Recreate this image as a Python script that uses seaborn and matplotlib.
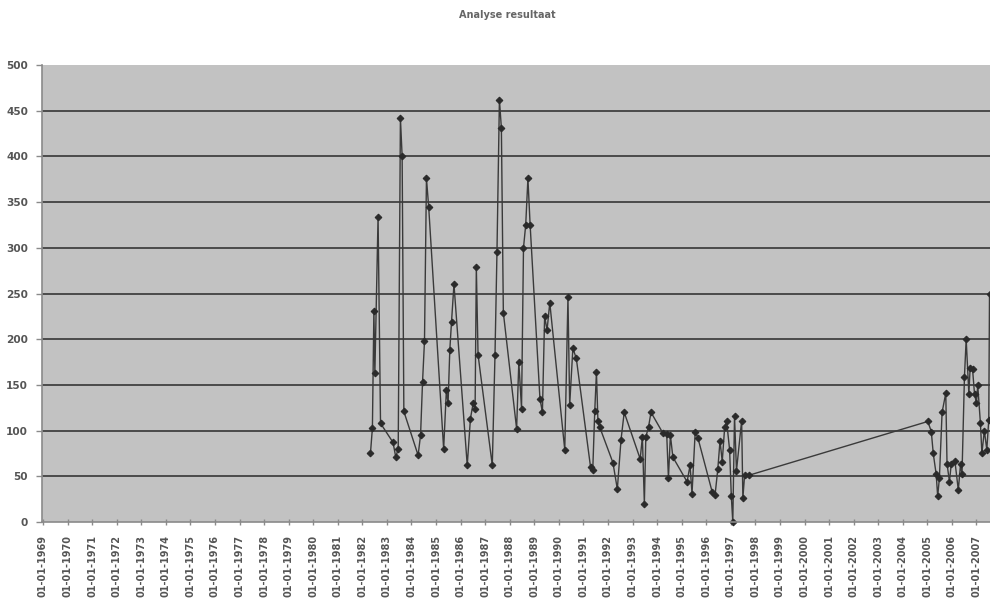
import matplotlib
matplotlib.use("Agg")
import matplotlib.pyplot as plt
import seaborn as sns
import pandas as pd

title_text = "Analyse resultaat"

# sample moments (decimal years) and measured results
sample_year = [
    1982.33, 1982.41, 1982.47, 1982.51, 1982.64, 1982.74,
    1983.25, 1983.36, 1983.46, 1983.55, 1983.62, 1983.69,
    1984.27, 1984.37, 1984.45, 1984.53, 1984.61, 1984.70,
    1985.31, 1985.42, 1985.49, 1985.56, 1985.63, 1985.73,
    1986.27, 1986.40, 1986.51, 1986.59, 1986.64, 1986.71,
    1987.29, 1987.40, 1987.48, 1987.58, 1987.66, 1987.74,
    1988.28, 1988.37, 1988.48, 1988.56, 1988.65, 1988.74, 1988.83,
    1989.23, 1989.33, 1989.42, 1989.52, 1989.63,
    1990.24, 1990.37, 1990.44, 1990.57, 1990.71,
    1991.29, 1991.38, 1991.46, 1991.53, 1991.59, 1991.66,
    1992.20, 1992.38, 1992.53, 1992.66,
    1993.31, 1993.40, 1993.48, 1993.54, 1993.65, 1993.75,
    1994.24, 1994.39, 1994.46, 1994.54, 1994.64,
    1995.22, 1995.34, 1995.42, 1995.55, 1995.66,
    1996.24, 1996.36, 1996.47, 1996.56, 1996.65, 1996.75, 1996.83, 1996.95,
    1997.02, 1997.08, 1997.15, 1997.23, 1997.44, 1997.49, 1997.56, 1997.72,
    2005.02, 2005.16, 2005.24, 2005.36, 2005.42, 2005.49, 2005.60, 2005.75,
    2005.80, 2005.90, 2005.97,
    2006.12, 2006.26, 2006.35, 2006.41, 2006.51, 2006.58, 2006.69, 2006.74,
    2006.84, 2006.92, 2007.00, 2007.05, 2007.16, 2007.22, 2007.32, 2007.42,
    2007.50, 2007.53,
]
result_value = [
    75, 103, 231, 163, 334, 108,
    87, 71, 80, 442, 400, 121,
    73, 95, 153, 198, 376, 345,
    80, 144, 130, 188, 219, 260,
    62, 113, 130, 124, 279, 183,
    62, 183, 295, 462, 431, 229,
    102, 175, 124, 300, 325, 376, 325,
    135, 120, 225, 210, 240,
    79, 246, 128, 190, 179,
    60, 57, 121, 164, 110, 104,
    65, 36, 90, 120,
    69, 93, 20, 93, 104, 120,
    97, 96, 48, 95, 71,
    44, 62, 31, 99, 92,
    33, 30, 58, 89, 66, 104, 110, 79,
    28, 0, 116, 56, 111, 26, 51, 51,
    110, 99, 75, 52, 28, 48, 120, 141,
    64, 44, 63,
    67, 35, 63, 52, 159, 200, 140, 168,
    167, 140, 130, 150, 108, 75, 100, 79,
    112, 250,
]

tick_years = list(range(1969, 2008))
tick_labels = [f"01-01-{y}" for y in tick_years]
y_ticks = list(range(0, 501, 50))

df = pd.DataFrame({"datum": sample_year, "resultaat": result_value})

sns.set_theme(style="ticks", rc={"axes.facecolor": "#c2c2c2"})
plt.rcParams["font.family"] = ["DejaVu Sans"]

fig = plt.figure(figsize=(9.9, 6.08), dpi=100)
ax = fig.add_axes([42 / 990, 86 / 608, 948 / 990, 457 / 608])
ax.set_facecolor("#c2c2c2")

sns.lineplot(data=df, x="datum", y="resultaat", ax=ax, sort=False,
             estimator=None, color="#3a3a3a", linewidth=1.0,
             marker="D", markersize=3.4, markeredgecolor="#2a2a2a",
             markerfacecolor="#2a2a2a", clip_on=False)

ax.set_xlim(1968.96, 2007.55)
ax.set_ylim(0, 500)
ax.set_yticks(y_ticks)
ax.set_xticks(tick_years)
ax.set_xticklabels(tick_labels, rotation=90)
ax.set_xlabel("")
ax.set_ylabel("")

ax.yaxis.grid(True, color="#4a4a4a", linewidth=1.4)
ax.xaxis.grid(False)
ax.set_axisbelow(True)
gl = ax.yaxis.get_gridlines()
gl[0].set_visible(False)
gl[-1].set_visible(False)

for s in ("top", "right"):
    ax.spines[s].set_visible(False)
for s in ("left", "bottom"):
    ax.spines[s].set_color("#8a8a8a")
    ax.spines[s].set_linewidth(1.2)

ax.tick_params(axis="y", direction="out", length=4, width=1, color="#8a8a8a",
               pad=6, labelsize=7.6, labelcolor="#555555")
ax.tick_params(axis="x", direction="inout", length=5, width=1, color="#8a8a8a",
               pad=7, labelsize=7.0, labelcolor="#555555")
for lbl in ax.get_xticklabels() + ax.get_yticklabels():
    lbl.set_fontweight("bold")

fig.text(507 / 990, 1 - 15 / 608, title_text, ha="center", va="center",
         fontsize=7.0, fontweight="bold", color="#666666")

fig.savefig("out.png", dpi=100, facecolor="white")
